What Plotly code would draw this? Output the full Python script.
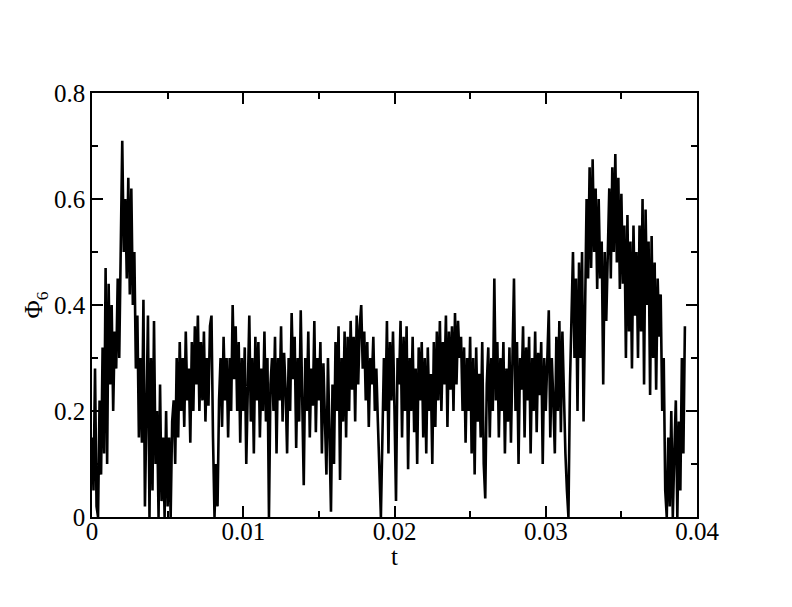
import numpy as np
import plotly.graph_objects as go

# time sampling of the series
T_START = 0.0
T_STEP = 0.0001

# Phi_6 values, in blocks of 0.001 in t
phi6 = [
    0.15, 0.05, 0.28, 0.02, 0.0, 0.22, 0.08, 0.32, 0.12, 0.47,
    0.1, 0.44, 0.25, 0.4, 0.2, 0.35, 0.28, 0.45, 0.3, 0.56,
    0.71, 0.5, 0.6, 0.45, 0.64, 0.42, 0.62, 0.4, 0.5, 0.28,
    0.38, 0.15, 0.3, 0.14, 0.41, 0.02, 0.25, 0.38, 0.0, 0.3,
    0.05, 0.37, 0.1, 0.2, 0.0, 0.25, 0.03, 0.15, 0.0, 0.2,
    0.02, 0.15, 0.0, 0.18, 0.22, 0.1, 0.3, 0.15, 0.33, 0.2,
    0.3, 0.17, 0.35, 0.22, 0.28, 0.14, 0.33, 0.2, 0.36, 0.25,
    0.38, 0.2, 0.33, 0.22, 0.35, 0.18, 0.3, 0.21, 0.36, 0.38,
    0.15, 0.0, 0.1, 0.02, 0.22, 0.3, 0.17, 0.34, 0.22, 0.3,
    0.15, 0.3, 0.2, 0.4, 0.26, 0.36, 0.2, 0.33, 0.14, 0.3,
    0.2, 0.32, 0.1, 0.28, 0.38, 0.18, 0.3, 0.12, 0.34, 0.22,
    0.33, 0.15, 0.28, 0.2, 0.35, 0.18, 0.3, 0.0, 0.25, 0.3,
    0.2, 0.34, 0.12, 0.3, 0.22, 0.36, 0.18, 0.31, 0.24, 0.12,
    0.3, 0.2, 0.385, 0.26, 0.34, 0.13, 0.3, 0.18, 0.39, 0.22,
    0.06, 0.3, 0.2, 0.35, 0.15, 0.28, 0.21, 0.37, 0.16, 0.3,
    0.22, 0.33, 0.12, 0.29, 0.2, 0.08, 0.3, 0.14, 0.01, 0.25,
    0.1, 0.33, 0.2, 0.36, 0.07, 0.3, 0.18, 0.35, 0.15, 0.34,
    0.2, 0.37, 0.24, 0.34, 0.18, 0.38, 0.25, 0.36, 0.4, 0.28,
    0.35, 0.22, 0.33, 0.17, 0.3, 0.25, 0.34, 0.2, 0.28, 0.18,
    0.1, 0.0, 0.15, 0.3, 0.2, 0.37, 0.12, 0.33, 0.22, 0.35,
    0.2, 0.03, 0.3, 0.25, 0.37, 0.15, 0.34, 0.2, 0.36, 0.09,
    0.3, 0.2, 0.34, 0.16, 0.28, 0.1, 0.32, 0.22, 0.33, 0.15,
    0.3, 0.12, 0.32, 0.2, 0.27, 0.1, 0.33, 0.17, 0.35, 0.22,
    0.37, 0.2, 0.33, 0.25, 0.38, 0.17, 0.35, 0.24, 0.36, 0.2,
    0.385, 0.25, 0.37, 0.3, 0.34, 0.2, 0.32, 0.14, 0.3, 0.2,
    0.34, 0.12, 0.3, 0.08, 0.32, 0.18, 0.27, 0.15, 0.33, 0.1,
    0.035, 0.25, 0.32, 0.15, 0.3, 0.2, 0.45, 0.22, 0.33, 0.15,
    0.3, 0.2, 0.33, 0.12, 0.28, 0.18, 0.32, 0.14, 0.3, 0.45,
    0.2, 0.33, 0.1, 0.3, 0.24, 0.36, 0.15, 0.32, 0.22, 0.34,
    0.12, 0.3, 0.2, 0.35, 0.16, 0.31, 0.23, 0.33, 0.1, 0.3,
    0.2, 0.32, 0.39, 0.15, 0.3, 0.22, 0.12, 0.34, 0.2, 0.37,
    0.16, 0.35, 0.2, 0.12, 0.05, 0.0, 0.25, 0.37, 0.5, 0.3,
    0.45, 0.2, 0.48, 0.3, 0.5, 0.18, 0.44, 0.6, 0.45, 0.66,
    0.47, 0.675, 0.5, 0.62, 0.43, 0.6, 0.45, 0.52, 0.25, 0.5,
    0.37, 0.5, 0.62, 0.45, 0.66, 0.5, 0.685, 0.48, 0.64, 0.43,
    0.61, 0.44, 0.55, 0.3, 0.57, 0.35, 0.52, 0.28, 0.55, 0.38,
    0.5, 0.3, 0.55, 0.35, 0.6, 0.25, 0.58, 0.4, 0.52, 0.23,
    0.53, 0.3, 0.48, 0.24, 0.45, 0.34, 0.42, 0.2, 0.3, 0.05,
    0.0, 0.15, 0.02, 0.2, 0.0, 0.12, 0.22, 0.0, 0.18, 0.05, 0.3, 0.12, 0.36,
]

t = T_START + T_STEP * np.arange(len(phi6))

x_ticks = [0, 0.01, 0.02, 0.03, 0.04]
x_ticklabels = ["0", "0.01", "0.02", "0.03", "0.04"]
y_ticks = [0, 0.2, 0.4, 0.6, 0.8]
y_ticklabels = ["0", "0.2", "0.4", "0.6", "0.8"]
x_title = "t"
y_title = "Φ<sub>6</sub>"

FONT = "Liberation Serif"

fig = go.Figure()
fig.add_trace(go.Scatter(
    x=t, y=phi6, mode="lines",
    line=dict(color="black", width=2.6),
    showlegend=False,
))

axis_common = dict(
    showline=True, linecolor="black", linewidth=1.5, mirror="ticks",
    ticks="inside", ticklen=11, tickwidth=1.5, tickcolor="black",
    showgrid=False, zeroline=False,
    tickfont=dict(family=FONT, size=25, color="black"),
)

fig.update_xaxes(
    range=[0, 0.04], tickmode="array", tickvals=x_ticks, ticktext=x_ticklabels,
    minor=dict(ticks="inside", ticklen=6, tickwidth=1.5, tickcolor="black", dtick=0.005, showgrid=False),
    ticklabelstandoff=-9,
    **axis_common,
)
fig.update_yaxes(
    range=[0, 0.8], tickmode="array", tickvals=y_ticks, ticktext=y_ticklabels,
    minor=dict(ticks="inside", ticklen=6, tickwidth=1.5, tickcolor="black", dtick=0.1, showgrid=False),
    title=dict(text=y_title, font=dict(family=FONT, size=25, color="black"), standoff=4),
    **axis_common,
)

fig.add_annotation(
    text=x_title, xref="paper", yref="paper", x=0.5, y=0,
    xanchor="center", yanchor="middle", yshift=-39, showarrow=False,
    font=dict(family=FONT, size=25, color="black"),
)

fig.update_layout(
    width=792, height=607,
    margin=dict(l=84, r=103, t=85, b=98),
    plot_bgcolor="white", paper_bgcolor="white",
    font=dict(family=FONT, size=25),
)

fig.write_html("out.html")
